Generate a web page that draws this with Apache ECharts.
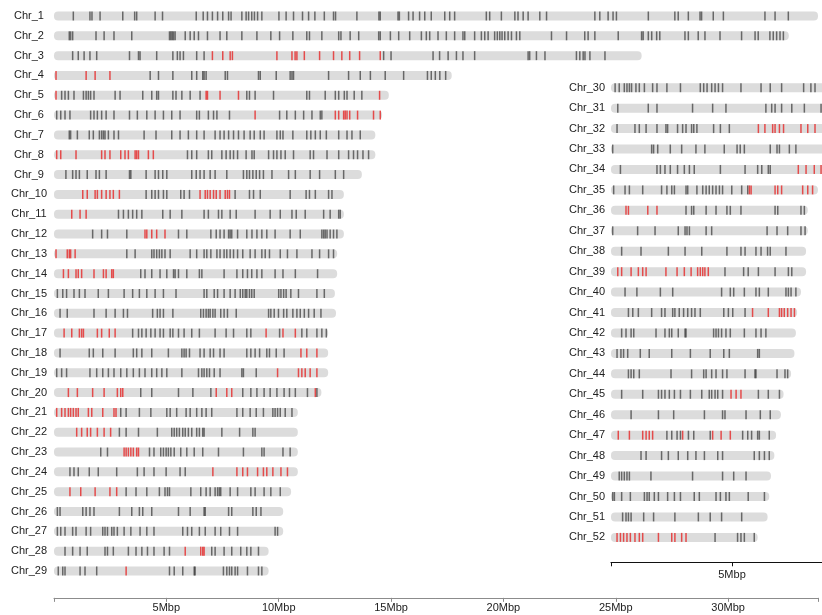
<!DOCTYPE html>
<html><head><meta charset="utf-8">
<script src="https://cdn.jsdelivr.net/npm/echarts@6/dist/echarts.min.js"></script>
<style>html,body{margin:0;padding:0;background:#fff}#c{width:822px;height:615px}</style>
</head><body><div id="c"></div>
<script>
const chrNames = [];
for (let i = 1; i <= 52; i++) chrNames.push('Chr_' + i);
const chrLengths = [34.0,32.7,26.15,17.7,14.9,14.6,14.3,14.3,13.7,12.9,12.9,12.9,12.6,12.6,12.5,12.55,12.2,12.2,12.2,11.9,10.85,10.85,10.85,10.85,10.55,10.2,10.2,9.55,9.55,
  9.2,9.2,9.2,9.2,9.2,8.55,8.13,8.13,8.06,8.06,7.85,7.69,7.64,7.58,7.44,7.13,7.02,6.82,6.75,6.61,6.54,6.47,6.06];
const leftTicks = [5,10,15,20,25,30];
const rightTicks = [5];
const blackMarks = [
 [0.86,1.60,1.69,2.05,3.06,3.59,3.68,4.50,4.83,6.33,6.64,6.83,7.05,7.28,7.51,7.77,7.88,8.36,8.55,8.66,8.80,8.92,9.06,9.25,10.01,10.33,10.66,11.06,11.33,11.61,12.03,12.44,12.53,13.48,14.46,14.52,15.31,15.37,15.78,15.98,16.27,16.50,16.79,17.39,17.61,17.83,19.24,19.39,19.91,20.51,20.65,20.88,21.10,21.62,21.92,24.07,24.29,24.66,24.88,25.03,26.45,27.63,27.78,28.23,28.75,28.82,29.34,29.79,31.64,32.09,32.68],
 [0.68,0.74,0.83,1.87,2.23,2.67,3.46,5.14,5.20,5.26,5.32,5.39,5.84,6.06,6.24,6.43,6.83,7.39,7.69,8.36,9.03,9.65,10.04,10.63,11.25,11.37,11.92,12.67,12.77,13.18,13.56,14.45,14.52,14.97,15.34,15.83,16.35,16.57,16.72,17.09,17.46,17.83,18.20,18.28,18.72,19.02,19.17,19.32,19.61,19.73,19.84,19.94,20.06,20.21,20.36,20.58,20.73,22.14,22.81,23.62,23.77,24.07,25.11,26.15,26.22,26.45,26.60,26.82,26.96,28.08,28.23,28.67,28.97,29.64,30.60,31.20,31.34,31.86,32.01,32.16,32.31,32.46],
 [0.83,1.08,1.34,1.60,1.90,3.36,3.76,3.83,4.57,5.29,5.49,5.61,5.76,6.35,6.68,14.67,15.00,16.87,17.16,17.54,17.91,18.20,18.72,21.10,21.17,21.47,21.85,23.25,23.40,23.55,23.63,23.85,24.52],
 [4.28,4.65,5.29,6.13,6.35,6.62,6.68,6.77,7.62,7.72,9.10,9.18,9.89,10.51,10.59,10.66,12.22,13.11,13.63,14.08,14.74,15.56,16.62,16.79,16.97,17.17,17.43],
 [0.34,0.49,0.64,0.89,1.31,1.43,1.53,1.63,1.78,2.72,2.94,3.95,4.35,4.57,4.65,5.29,5.43,5.69,6.06,6.50,8.58,8.70,8.95,9.77,11.25,11.37,12.07,12.52,12.67,12.92,13.04,13.36,13.70],
 [0.12,0.30,0.49,0.71,1.63,1.78,1.93,2.12,2.32,2.67,3.36,3.71,4.13,4.50,4.87,5.24,5.61,6.35,6.47,6.87,7.10,7.25,7.81,10.04,10.36,10.74,11.11,11.48,11.85,11.92],
 [0.68,0.74,1.04,1.57,1.75,2.02,2.12,2.20,2.27,2.42,2.67,2.87,4.01,4.54,5.24,5.61,5.98,6.35,6.68,7.17,7.39,7.57,7.77,7.99,8.21,8.46,8.73,8.91,9.18,9.35,9.92,10.07,10.19,10.63,11.25,11.43,11.63,11.85,12.12,12.67,13.04,13.26,13.63],
 [5.94,6.13,6.35,6.87,7.02,7.47,7.66,7.84,7.99,8.17,8.55,8.81,8.91,9.55,9.77,9.92,10.10,10.29,10.66,11.40,11.55,12.15,12.67,13.11,13.33,13.51,13.75,14.00],
 [0.53,0.83,0.98,1.13,1.48,1.87,2.02,2.32,3.36,3.42,4.10,4.50,4.65,4.84,5.02,6.13,6.33,6.50,6.68,6.95,7.17,7.69,8.43,8.58,8.70,8.85,9.00,9.15,9.32,9.70,10.44,10.74,11.40,11.82,12.52,12.89],
 [4.10,4.35,4.50,4.65,4.87,5.02,5.64,5.79,6.03,8.06,8.70,8.88,9.18,10.51,11.22,11.37,11.63,12.22,12.37],
 [2.87,3.09,3.31,3.50,3.68,3.91,4.84,5.17,5.69,6.68,6.87,7.32,7.47,7.84,8.11,8.95,9.62,10.07,10.59,10.78,11.18,12.00,12.29,12.67,12.74],
 [1.72,2.12,2.38,3.24,5.54,5.91,6.98,7.22,7.39,7.57,7.77,7.84,7.91,8.17,8.58,8.81,9.03,9.25,9.47,9.84,10.51,10.96,11.92,12.00,12.07,12.15,12.29,12.44,12.59],
 [3.24,3.61,4.35,4.45,4.57,4.69,4.80,4.94,5.17,6.06,6.35,6.68,6.80,6.98,7.25,7.39,7.57,7.69,7.84,7.99,8.17,8.40,8.73,8.95,9.25,9.40,9.59,10.07,10.39,10.81,11.48,11.82,12.22,12.44],
 [3.86,4.05,4.35,4.72,5.02,5.32,5.39,5.54,5.91,6.47,6.58,7.57,8.14,8.40,8.61,8.80,9.03,9.25,9.84,10.19,10.74,11.73],
 [0.15,0.39,0.56,0.89,1.13,1.38,1.97,2.42,3.12,3.50,3.80,4.13,4.50,4.87,5.43,6.68,6.80,7.13,7.28,7.57,7.84,8.06,8.29,8.40,8.51,8.58,8.70,8.80,8.91,10.00,10.10,10.22,10.33,10.54,10.88,11.70,12.03],
 [0.27,0.59,1.78,2.32,2.72,3.09,3.27,4.39,4.60,4.72,4.87,5.29,6.53,6.65,6.77,6.87,6.95,7.07,7.17,7.42,7.57,7.72,8.11,9.55,9.65,9.80,9.99,10.22,10.36,10.63,10.81,10.96,11.14,11.33,11.58,11.88],
 [3.50,3.76,3.91,4.10,4.31,4.50,4.72,4.87,5.17,5.29,5.54,5.79,6.13,6.47,7.17,7.66,7.99,8.58,8.76,10.04,11.03,11.25,11.70,11.92,12.12],
 [0.27,1.57,1.75,2.17,2.72,3.53,3.68,3.91,4.35,5.09,5.69,5.79,5.88,6.03,6.50,6.68,6.95,7.10,7.39,7.57,8.58,8.76,8.95,9.15,9.47,9.59,9.89,10.24],
 [0.12,0.34,0.56,1.60,1.90,2.17,2.42,2.67,2.97,3.24,3.53,3.80,4.05,4.35,4.57,4.80,5.02,5.69,6.43,6.58,6.68,6.80,6.92,7.13,7.39,8.36,8.43,9.00],
 [3.86,4.35,5.54,6.18,6.98,8.40,8.76,9.03,9.35,9.62,9.92,10.24,10.48,10.74,11.28,11.70],
 [2.97,3.21,3.80,4.31,5.02,5.17,5.46,5.88,6.06,6.35,6.58,6.77,7.02,8.14,8.40,8.73,9.00,9.32,9.74,9.84,9.95,10.07,10.29,10.59],
 [2.91,3.21,3.76,4.60,5.24,5.35,5.46,5.58,5.73,5.84,5.98,6.13,6.35,6.47,6.62,6.68,7.47,8.26,8.85,8.95],
 [2.08,2.38,4.25,4.45,4.75,4.87,4.99,5.09,5.20,5.35,5.64,5.91,6.24,6.62,7.32,8.43,9.25,9.35,10.19,10.51],
 [0.71,0.89,1.08,1.57,1.97,2.79,3.71,4.01,4.45,4.99,5.61,5.84],
 [3.21,3.65,4.13,4.69,4.94,5.05,5.14,6.09,6.53,6.77,6.95,7.17,7.28,7.36,7.42,7.84,8.17,8.76,8.95,9.35,9.65,10.07],
 [0.15,0.27,1.28,1.43,1.60,1.78,2.91,3.46,3.80,3.95,4.35,5.54,6.06,6.68,6.73,7.77,7.91,8.85,9.00,9.21],
 [0.15,0.30,0.49,0.83,0.98,1.43,1.63,2.17,2.27,2.38,2.57,2.67,2.82,3.12,3.42,3.83,4.13,4.45,5.73,5.94,6.13,6.47,6.73,7.17,7.42,7.81,8.17,9.84,9.95],
 [0.49,0.83,1.16,1.48,2.27,2.38,2.64,3.31,3.65,3.91,4.16,4.45,4.90,5.14,7.02,7.17,7.57,7.91,8.31,8.58,8.76,9.10],
 [0.19,0.39,0.49,1.16,1.38,1.90,5.14,5.35,5.73,6.24,6.28,7.54,7.69,7.81,7.91,8.06,8.17,8.61,9.10,9.25],
 [0.17,0.34,0.55,0.66,0.76,0.85,1.03,1.17,1.38,1.72,1.90,2.31,2.87,3.69,3.83,3.97,4.16,4.30,4.44,4.61,5.37,6.20,6.58,7.05,7.96,8.26,8.43],
 [0.28,1.54,1.90,3.37,4.20,4.75,6.40,6.64,6.78,7.05,7.47,7.99,8.68],
 [0.25,0.99,1.17,1.45,1.90,2.27,2.34,2.75,2.96,3.10,3.33,3.42,3.55,4.24,4.52,4.89],
 [0.07,1.68,1.76,1.93,2.45,2.92,3.51,3.88,4.68,5.21,5.34,5.51,6.58,6.86,6.96,7.37,7.64],
 [0.39,1.90,2.04,2.23,2.45,2.75,3.03,3.24,3.44,4.52,5.54,6.06,6.23,6.50,6.58],
 [0.11,0.58,0.76,1.31,2.09,2.31,2.51,2.62,3.10,3.17,3.55,3.79,3.93,4.06,4.20,4.34,4.48,4.61,4.99,5.40,5.65],
 [3.10,3.33,3.42,3.93,4.34,4.79,4.93,5.37,6.78,6.89,7.85,7.99],
 [0.07,1.10,1.82,2.78,3.06,3.14,3.24,3.93,4.16,6.45,6.86,7.30,7.85,8.02],
 [0.44,1.24,2.37,3.06,3.75,4.79,5.37,5.54,5.99,6.20,6.47,6.58,7.23],
 [4.71,5.48,5.67,6.09,6.78,7.33,7.47],
 [0.58,1.07,2.04,2.55,4.57,4.93,5.07,5.51,5.99,6.13,6.50,7.23,7.33,7.44,7.64],
 [0.72,0.90,1.13,1.68,2.09,2.23,2.55,2.64,2.82,3.00,3.17,3.33,3.47,3.69,4.66,4.85,5.03,5.54],
 [0.44,0.62,0.83,0.94,1.86,2.23,2.41,2.51,2.78,3.06,3.10,4.24,4.34,4.44,4.57,4.75,4.93,5.51,5.99,6.20,6.40],
 [0.25,0.41,0.52,0.69,1.21,1.58,2.51,3.28,4.10,4.66,4.89,6.06,6.13],
 [0.72,0.83,0.94,1.17,2.48,3.33,3.83,3.93,4.16,4.34,4.61,4.79,5.54,5.95,5.99,6.86,7.19,7.30],
 [0.44,1.31,1.96,2.09,2.23,2.41,2.62,2.87,3.28,3.75,4.06,4.16,4.30,4.41,4.61,6.09,6.50,6.96],
 [0.83,1.96,2.59,3.86,4.61,4.71,5.58,6.17,6.58],
 [2.31,2.51,2.73,2.87,3.20,3.42,4.10,5.44,5.65,5.81,6.06,6.13,6.54],
 [1.24,1.45,2.09,2.37,2.78,3.17,3.51,3.86,4.41,4.61,5.92,6.13,6.34,6.54],
 [0.34,0.44,0.55,0.66,0.76,1.65,3.37,4.61,5.07,5.58],
 [0.07,0.14,0.44,0.80,1.38,1.49,1.58,1.79,1.96,2.34,2.62,2.87,3.44,3.65,4.34,4.52,4.75,4.89,5.67,6.34],
 [0.48,0.62,0.72,0.83,1.35,1.76,2.64,3.61,4.10,4.57,5.40],
 [4.30,5.23,5.37,5.51,5.92]
];
const redMarks = [
 [],[],
 [7.05,7.51,7.84,7.94,9.92,10.59,10.73,10.81,11.14,11.82,12.44,12.81,13.16,13.60,14.52],
 [0.09,1.43,1.83,2.49],
 [0.09,6.77,6.83,7.39,8.21,14.49],
 [8.95,12.52,12.67,12.89,12.96,13.04,13.16,13.51,14.22,14.52],
 [],
 [0.12,0.30,0.98,2.12,2.27,2.49,2.97,3.16,3.31,3.61,3.68,3.76,4.20,4.42],
 [],
 [1.28,1.48,1.83,1.93,2.12,2.32,2.49,2.64,2.91,6.50,6.73,6.83,6.95,7.10,7.22,7.39,7.62,7.72,7.81],
 [0.79,1.16,1.43],
 [4.05,4.13,4.35,4.57,4.94],
 [0.09,0.59,0.68,0.74,0.94],
 [0.42,0.64,0.98,1.08,1.23,1.78,2.20,2.32,2.57,2.64],
 [],[],
 [0.45,0.79,1.13,1.23,1.31,1.93,2.12,2.46,2.72,9.44,10.19,10.74],
 [10.99,11.25,11.70],
 [9.95,10.88,11.03,11.18,11.40,11.70],
 [0.64,1.04,1.72,2.23,2.82,2.97,3.06,7.22,7.69,7.91,11.63],
 [0.12,0.34,0.49,0.64,0.74,0.86,0.98,1.08,1.53,1.68,2.17,2.67,2.76],
 [1.01,1.23,1.48,1.63,1.93,2.23,2.52],
 [3.12,3.21,3.31,3.42,3.53,3.68,3.76],
 [7.07,8.14,8.40,8.61,9.06,9.32,9.47,9.74,10.10,10.39],
 [0.71,1.19,1.83,2.49,2.79],
 [],[],
 [5.84,6.53,6.62,6.68],
 [3.21],
 [],[],
 [6.09,6.36,6.68,6.78,6.96,7.13,7.85,8.13,8.43],
 [],
 [7.74,8.06,8.40,8.68],
 [5.72,5.79,6.78,6.89,7.05,7.92,8.13,8.33],
 [0.62,0.72,1.52,1.90],
 [],[],
 [0.28,0.44,0.83,1.13,1.31,1.45,2.27,2.73,3.03,3.31,3.58,3.69,3.79,3.88,4.02],
 [],
 [5.85,6.50,6.96,7.05,7.16,7.30,7.44,7.58],
 [],[],[],
 [4.96,5.17,5.37],
 [],
 [0.30,0.76,1.31,1.45,1.58,1.72,2.96,4.20,4.55,4.93],
 [],[],[],[],
 [0.25,0.39,0.52,0.66,0.80,0.99,1.17,1.31,1.96,2.51,2.64,2.92,3.10]
];

const SPLIT = 29;
function barsFor(from, to) {
  const out = [];
  for (let i = from; i < to; i++) out.push([chrLengths[i], i - from]);
  return out;
}
function marksFor(from, to) {
  const out = [];
  for (let i = from; i < to; i++) {
    blackMarks[i].forEach(v => out.push([v, i - from, 0]));
    redMarks[i].forEach(v => out.push([v, i - from, 1]));
  }
  return out;
}
const BAR_H = 9;
function renderBar(params, api) {
  const a = api.coord([0, api.value(1)]);
  const b = api.coord([api.value(0), api.value(1)]);
  return { type: 'rect', shape: { x: a[0], y: a[1] - BAR_H / 2, width: b[0] - a[0], height: BAR_H, r: 4 },
    style: { fill: '#dcdcdc' } };
}
function renderMark(params, api) {
  const p = api.coord([api.value(0), api.value(1)]);
  const red = api.value(2) === 1;
  return { type: 'rect', shape: { x: p[0] - 0.75, y: p[1] - BAR_H / 2, width: 1.5, height: BAR_H },
    style: { fill: red ? 'rgba(232,20,20,0.72)' : 'rgba(30,30,30,0.62)' } };
}
const FONT = 'Liberation Sans, Arial, sans-serif';
const chart = echarts.init(document.getElementById('c'), null, { renderer: 'canvas' });
const leftRowH = 19.82, rightRowH = 20.44;
const RIGHT_MAX = 8.8;
chart.setOption({
  animation: false,
  backgroundColor: '#fff',
  grid: [
    { left: 54, top: 16 - leftRowH / 2, width: 34 * 22.47, height: 29 * leftRowH, outerBoundsMode: 'none', containLabel: false },
    { left: 611, top: 87.7 - rightRowH / 2, width: RIGHT_MAX * 24.2, height: 23 * rightRowH, outerBoundsMode: 'none', containLabel: false }
  ],
  xAxis: [
    { gridIndex: 0, type: 'value', min: 0, max: 34, interval: 5, offset: 17,
      axisLine: { show: true, lineStyle: { color: '#8c8c8c', width: 1 } },
      axisTick: { show: true, length: 4, lineStyle: { color: '#8c8c8c' } },
      splitLine: { show: false },
      axisLabel: { margin: 5, fontSize: 11, fontFamily: FONT, color: '#222',
        formatter: v => leftTicks.indexOf(v) >= 0 ? v + 'Mbp' : '' } },
    { gridIndex: 1, type: 'value', min: 0, max: RIGHT_MAX, interval: 5, offset: 14.7,
      axisLine: { show: true, lineStyle: { color: '#111', width: 1.2 } },
      axisTick: { show: true, length: 4, lineStyle: { color: '#111' } },
      splitLine: { show: false },
      axisLabel: { margin: 7, fontSize: 11, fontFamily: FONT, color: '#222',
        formatter: v => rightTicks.indexOf(v) >= 0 ? v + 'Mbp' : '' } }
  ],
  yAxis: [
    { gridIndex: 0, type: 'category', inverse: true, data: chrNames.slice(0, SPLIT),
      axisLine: { show: false }, axisTick: { show: false }, splitLine: { show: false },
      axisLabel: { align: 'center', margin: 25, fontSize: 11, fontFamily: FONT, color: '#222' } },
    { gridIndex: 1, type: 'category', inverse: true, data: chrNames.slice(SPLIT),
      axisLine: { show: false }, axisTick: { show: false }, splitLine: { show: false },
      axisLabel: { align: 'center', margin: 24, fontSize: 11, fontFamily: FONT, color: '#222' } }
  ],
  series: [
    { type: 'custom', xAxisIndex: 0, yAxisIndex: 0, renderItem: renderBar, data: barsFor(0, SPLIT), silent: true, clip: false },
    { type: 'custom', xAxisIndex: 0, yAxisIndex: 0, renderItem: renderMark, data: marksFor(0, SPLIT), silent: true, clip: false },
    { type: 'custom', xAxisIndex: 1, yAxisIndex: 1, renderItem: renderBar, data: barsFor(SPLIT, 52), silent: true, clip: false },
    { type: 'custom', xAxisIndex: 1, yAxisIndex: 1, renderItem: renderMark, data: marksFor(SPLIT, 52), silent: true, clip: false }
  ]
});
</script></body></html>
